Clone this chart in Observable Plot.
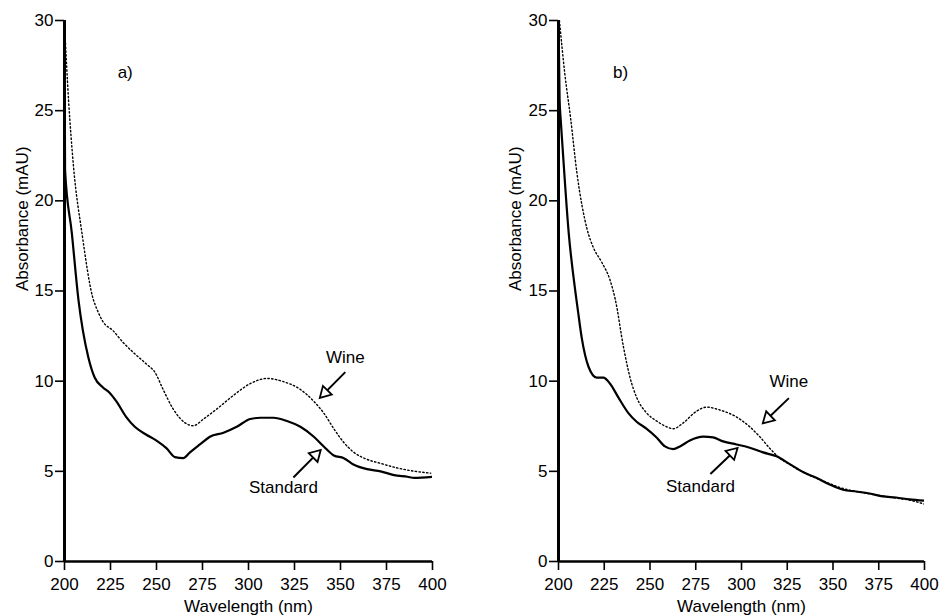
<!DOCTYPE html>
<html><head><meta charset="utf-8">
<script src="https://cdn.jsdelivr.net/npm/d3@7"></script>
<script src="https://cdn.jsdelivr.net/npm/@observablehq/plot@0.6"></script>
<style>
body{margin:0;background:#fff;}
#wrap{display:flex;width:941px;height:616px;overflow:hidden;}
</style></head><body><div id="wrap"></div>
<script>
// ---- data ----
const xTicks = [200, 225, 250, 275, 300, 325, 350, 375, 400];
const yTicks = [0, 5, 10, 15, 20, 25, 30];
const xLabel = "Wavelength (nm)";
const yLabel = "Absorbance (mAU)";

// Panel a) Standard (solid)
const stdA_nm  = [200, 200.3, 204, 207.6, 210, 213, 216.4, 220.9, 224.5, 228.2, 233.6, 238.2, 244.5, 250, 255.5, 260, 264.5, 268.2, 273.6, 279, 286.4, 293.6, 300.9, 306.4, 313.6, 320.9, 328.2, 335.5, 340.9, 346.4, 351.8, 357.3, 364.5, 371.8, 379.1, 386.4, 390, 400];
const stdA_abs = [30, 21.7, 18.2, 14.5, 12.8, 11.3, 10.2, 9.65, 9.36, 8.88, 8.01, 7.47, 7.03, 6.7, 6.27, 5.79, 5.73, 6.05, 6.49, 6.92, 7.14, 7.47, 7.9, 7.97, 7.97, 7.79, 7.47, 6.92, 6.38, 5.88, 5.73, 5.36, 5.12, 5.0, 4.79, 4.70, 4.64, 4.70];
// Panel a) Wine (dotted)
const wineA_nm  = [200, 202.2, 204.9, 209.5, 215.2, 218, 220.9, 226.4, 231.8, 237.3, 244.5, 249.1, 253.6, 259.1, 265.5, 270, 275.5, 282.7, 291.8, 300.9, 310, 319.1, 328.2, 335.5, 340.9, 346.4, 351.8, 357.3, 364.5, 371.8, 379.1, 386.4, 393.6, 399];
const wineA_abs = [29.8, 25.6, 21.9, 18.2, 14.7, 13.9, 13.3, 12.8, 12.15, 11.6, 10.95, 10.5, 9.54, 8.45, 7.69, 7.53, 7.9, 8.45, 9.21, 9.86, 10.15, 9.97, 9.54, 8.88, 8.23, 7.36, 6.6, 6.05, 5.66, 5.44, 5.23, 5.07, 4.96, 4.9];

// Panel b) Standard (solid)
const stdB_nm  = [200, 200.6, 201.2, 202, 205.6, 209.3, 210.5, 212.7, 216.4, 220.9, 224.5, 228.2, 232.7, 238.2, 242.7, 248.2, 253.6, 258.2, 262.7, 266.4, 271.8, 279.1, 284.5, 290, 297.3, 304.5, 311.8, 319.1, 326.4, 333.6, 340.9, 348.2, 355.5, 362.7, 370, 377.3, 384.5, 391.8, 400];
const stdB_abs = [30, 25.6, 24.5, 23.3, 18.2, 14.9, 14.0, 12.4, 10.8, 10.2, 10.2, 9.86, 9.1, 8.23, 7.75, 7.36, 6.88, 6.38, 6.23, 6.38, 6.71, 6.92, 6.88, 6.66, 6.49, 6.31, 6.05, 5.83, 5.4, 4.96, 4.64, 4.27, 3.98, 3.88, 3.77, 3.61, 3.55, 3.44, 3.37];
// Panel b) Wine (dotted)
const wineB_nm  = [200.5, 203.5, 206.6, 210, 215.7, 219.1, 223.6, 228.2, 231.1, 235.5, 239.1, 242.7, 248.2, 253.6, 259.1, 262.7, 268.2, 275.5, 280.9, 288.2, 297.3, 304.5, 310, 315.5, 320.9, 326.4, 333.6, 345, 355.5, 370, 384.5, 392, 400];
const wineB_abs = [30, 27, 24.6, 21.6, 18.4, 17.4, 16.6, 15.6, 14.5, 11.9, 10.2, 9.1, 8.23, 7.79, 7.47, 7.36, 7.69, 8.34, 8.56, 8.4, 8.01, 7.47, 6.92, 6.27, 5.73, 5.38, 4.96, 4.45, 4.05, 3.75, 3.52, 3.4, 3.18];

// Annotations (data coordinates)
const panelLabels = ["a)", "b)"];
const panelLabelPos = [[233, 27.1], [233.9, 27.1]];
const wineText = [[352.6, 11.3], [325.9, 10.0]];
const wineArrow = [[352.6, 10.5, 339, 9.1], [325.9, 9.06, 311.9, 7.69]];
const stdText = [[319, 4.1], [277.6, 4.14]];
const stdArrow = [[324.4, 4.66, 339, 6.16], [283, 4.85, 297.6, 6.27]];

const series = [
  {std: [stdA_nm, stdA_abs], wine: [wineA_nm, wineA_abs]},
  {std: [stdB_nm, stdB_abs], wine: [wineB_nm, wineB_abs]}
];
const layout = [
  {width: 470, marginLeft: 64, marginRight: 38, yLabelDx: -42},
  {width: 471, marginLeft: 88, marginRight: 17, yLabelDx: -43}
];

const H = 616, MT = 20, MB = 55;
const font = "'Liberation Sans', Arial, Helvetica, sans-serif";

function table(pair) { return pair[0].map((x, i) => ({x, y: pair[1][i]})); }

function makePanel(i) {
  const L = layout[i];
  const kx = (L.width - L.marginLeft - L.marginRight) / 200; // px per nm
  const ky = (H - MT - MB) / 30;                            // px per mAU
  const arrows = [wineArrow[i], stdArrow[i]].map(([x1, y1, x2, y2]) => {
    const dx = (x2 - x1) * kx, dy = -(y2 - y1) * ky;
    const len = Math.hypot(dx, dy);
    const back = 6.5;
    return {x1, y1, x2, y2,
      hx: x2 - (dx / len) * back / kx,
      hy: y2 + (dy / len) * back / ky,
      rot: Math.atan2(dx, -dy) * 180 / Math.PI};
  });
  const texts = [
    {x: panelLabelPos[i][0], y: panelLabelPos[i][1], t: panelLabels[i]},
    {x: wineText[i][0], y: wineText[i][1], t: "Wine"},
    {x: stdText[i][0], y: stdText[i][1], t: "Standard"}
  ];
  return Plot.plot({
    width: L.width, height: H,
    marginTop: MT, marginBottom: MB, marginLeft: L.marginLeft, marginRight: L.marginRight,
    style: {fontFamily: font, fontSize: "17px", color: "#000", background: "#fff"},
    x: {domain: [200, 400], axis: null},
    y: {domain: [0, 30], axis: null},
    marks: [
      Plot.axisX({ticks: xTicks, tickSize: 9, tickPadding: 7, tickFormat: d => String(d),
        strokeWidth: 1.6, fontSize: 17, label: null}),
      Plot.axisY({ticks: yTicks, tickSize: 9, tickPadding: 2, tickFormat: d => String(d),
        strokeWidth: 1.6, fontSize: 17, label: null}),
      Plot.text([xLabel], {text: d => d, frameAnchor: "bottom", dy: 50, fontSize: 17, fill: "#000"}),
      Plot.text([yLabel], {text: d => d, frameAnchor: "left", dx: L.yLabelDx, rotate: -90, fontSize: 17, fill: "#000"}),
      Plot.line(table(series[i].wine), {x: "x", y: "y", stroke: "#000", strokeWidth: 1.4,
        strokeDasharray: "1.4,2.4", curve: "monotone-x", clip: true}),
      Plot.line(table(series[i].std), {x: "x", y: "y", stroke: "#000", strokeWidth: 2.2,
        curve: "monotone-x", clip: true}),
      Plot.ruleX([200], {stroke: "#000", strokeWidth: 3}),
      Plot.ruleY([0], {stroke: "#000", strokeWidth: 2.5}),
      Plot.link(arrows, {x1: "x1", y1: "y1", x2: "x2", y2: "y2", stroke: "#000", strokeWidth: 2}),
      Plot.dot(arrows, {x: "hx", y: "hy", symbol: "triangle", r: 4.6, rotate: "rot",
        fill: "#fff", stroke: "#000", strokeWidth: 1.8}),
      Plot.text(texts, {x: "x", y: "y", text: "t", fontSize: 17, fill: "#000"})
    ]
  });
}

const wrap = document.getElementById("wrap");
wrap.appendChild(makePanel(0));
wrap.appendChild(makePanel(1));
</script></body></html>
